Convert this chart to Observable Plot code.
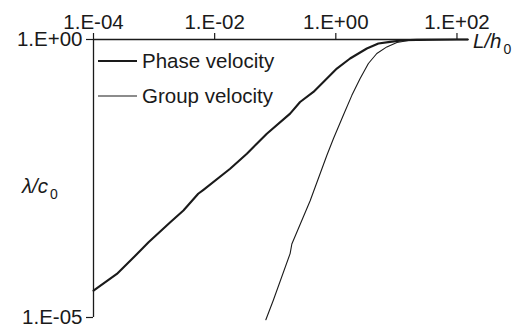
<!DOCTYPE html>
<html>
<head>
<meta charset="utf-8">
<script src="https://cdn.jsdelivr.net/npm/d3@7"></script>
<script src="https://cdn.jsdelivr.net/npm/@observablehq/plot@0.6"></script>
<style>
  html, body { margin: 0; padding: 0; background: #fff; }
  #wrap { position: relative; width: 520px; height: 327px; font-family: "Liberation Sans", Arial, Helvetica, sans-serif; color: #1a1a1a; }
  .lbl { position: absolute; font-size: 20.5px; line-height: 1; white-space: nowrap; }
  .lbl i { font-style: italic; }
  .lbl sub { font-size: 14px; vertical-align: -6px; font-style: normal; padding-left: 2px; }
  .leg { position: absolute; left: 98px; font-size: 20.5px; line-height: 1; white-space: nowrap; display: flex; align-items: center; }
  .leg svg { margin-right: 5px; }
</style>
</head>
<body>
<div id="wrap"></div>
<script>
// Phase velocity (x = L/h0, y = lambda/c0)
const phaseL = [1.0e-4, 2.43e-4, 5.9e-4, 8.1e-4, 1.85e-3, 3.05e-3, 5.35e-3, 6.53e-3, 0.0180, 0.0340, 0.0726, 0.176, 0.257, 0.427, 0.624, 1.04, 1.72, 3.25, 5.05, 7.87, 13.1, 21.7, 100, 151];
const phaseV = [3.04e-5, 6.08e-5, 1.58e-4, 2.25e-4, 5.18e-4, 8.4e-4, 1.68e-3, 1.98e-3, 4.74e-3, 8.83e-3, 0.0202, 0.0464, 0.0752, 0.114, 0.172, 0.300, 0.455, 0.689, 0.847, 0.906, 0.970, 0.984, 1, 1];
// Group velocity
const groupL = [0.070, 0.0923, 0.176, 0.188, 0.377, 0.710, 0.912, 1.33, 1.84, 2.52, 3.45, 4.75, 6.95, 10.2, 16.8, 31.8, 151];
const groupV = [9.1e-6, 2.0e-5, 1.41e-4, 2.1e-4, 1.26e-3, 8.2e-3, 0.0164, 0.0433, 0.099, 0.198, 0.370, 0.560, 0.736, 0.883, 0.970, 1, 1];
// ticks
const xTicks = [1e-4, 1e-2, 1, 1e2];
const yTicks = [1e-5, 1];
const seriesNames = ["Phase velocity", "Group velocity"];

const phase = phaseL.map((L, i) => ({L, v: phaseV[i]}));
const group = groupL.map((L, i) => ({L, v: groupV[i]}));

const fmt = d => {
  const e = Math.round(Math.log10(d));
  return "1.E" + (e < 0 ? "-" : "+") + String(Math.abs(e)).padStart(2, "0");
};

const ink = "#1a1a1a";
const chart = Plot.plot({
  width: 520,
  height: 327,
  marginLeft: 93,
  marginRight: 52,
  marginTop: 39,
  marginBottom: 10,
  style: {fontFamily: '"Liberation Sans", Arial, Helvetica, sans-serif', fontSize: "20.5px", color: ink, background: "#fff", overflow: "visible"},
  x: {type: "log", domain: [1e-4, 155]},
  y: {type: "log", domain: [1e-5, 1]},
  marks: [
    Plot.axisX(xTicks, {anchor: "top", tickSize: 7, tickPadding: 4, tickFormat: fmt, label: null, strokeWidth: 1.2}),
    Plot.axisY(yTicks, {anchor: "left", tickSize: 7, tickPadding: 4, tickFormat: fmt, label: null, strokeWidth: 1.2}),
    Plot.ruleY([1], {stroke: ink, strokeWidth: 1.3}),
    Plot.ruleX([1e-4], {stroke: ink, strokeWidth: 1.3}),
    Plot.line(phase, {x: "L", y: "v", stroke: ink, strokeWidth: 2.1, curve: "linear"}),
    Plot.line(group, {x: "L", y: "v", stroke: ink, strokeWidth: 1.1, curve: "linear"})
  ]
});
const wrap = document.getElementById("wrap");
wrap.appendChild(chart);

function addLegend(name, top, width) {
  const d = document.createElement("div");
  d.className = "leg";
  d.style.top = top + "px";
  d.innerHTML = `<svg width="39" height="6"><line x1="0" x2="39" y1="3" y2="3" stroke="${ink}" stroke-width="${width}"/></svg><span>${name}</span>`;
  wrap.appendChild(d);
}
addLegend(seriesNames[0], 51, 2.1);
addLegend(seriesNames[1], 86, 1.1);

const xl = document.createElement("div");
xl.className = "lbl";
xl.style.left = "473px"; xl.style.top = "31px";
xl.innerHTML = "<i>L/h</i><sub>0</sub>";
wrap.appendChild(xl);

const yl = document.createElement("div");
yl.className = "lbl";
yl.style.left = "22px"; yl.style.top = "176px";
yl.innerHTML = "<i>λ/c</i><sub>0</sub>";
wrap.appendChild(yl);
</script>
</body>
</html>
